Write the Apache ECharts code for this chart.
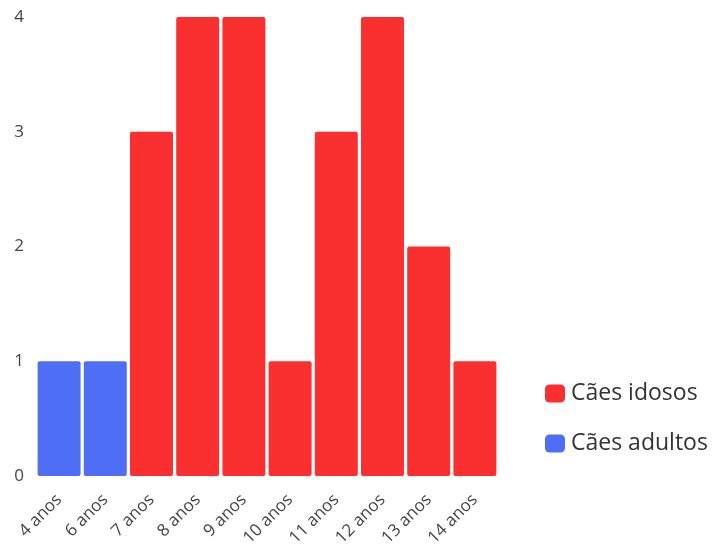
<!DOCTYPE html>
<html>
<head>
<meta charset="utf-8">
<script src="https://cdn.jsdelivr.net/npm/echarts@6/dist/echarts.min.js"></script>
<style>
  html, body { margin: 0; padding: 0; background: #fff; }
  #chart { width: 714px; height: 544px; }
</style>
</head>
<body>
<div id="chart"></div>
<script>
// Idade dos cães e quantidade em cada idade
const categories = ['4 anos', '6 anos', '7 anos', '8 anos', '9 anos', '10 anos', '11 anos', '12 anos', '13 anos', '14 anos'];
const idosos = [null, null, 3, 4, 4, 1, 3, 4, 2, 1];
const adultos = [1, 1, null, null, null, null, null, null, null, null];
const yTicks = [0, 1, 2, 3, 4];

const RED = '#fa2f2f';
const BLUE = '#4e6ef6';
const FONT = '"Open Sans", "Noto Sans", sans-serif';

const chart = echarts.init(document.getElementById('chart'));
chart.setOption({
  animation: false,
  textStyle: { fontFamily: FONT },
  grid: { left: 36, right: 216, top: 17, bottom: 68, containLabel: false, outerBoundsMode: 'none' },
  legend: {
    orient: 'vertical',
    left: 540,
    top: 377,
    itemWidth: 20,
    itemHeight: 18,
    itemGap: 27,
    icon: 'roundRect',
    textStyle: { fontFamily: FONT, fontSize: 23, lineHeight: 23, color: '#333', padding: [0, 0, 0, 1] },
    data: ['Cães idosos', 'Cães adultos']
  },
  xAxis: {
    type: 'category',
    data: categories,
    axisLine: { show: false },
    axisTick: { show: false },
    axisLabel: { rotate: 45, fontSize: 17, color: '#444', margin: 21, interval: 0 }
  },
  yAxis: {
    type: 'value',
    min: yTicks[0],
    max: yTicks[yTicks.length - 1],
    interval: 1,
    splitLine: { show: false },
    axisLine: { show: false },
    axisTick: { show: false },
    axisLabel: { fontSize: 17, color: '#444', margin: 12 }
  },
  series: [
    {
      name: 'Cães idosos',
      type: 'bar',
      stack: 'caes',
      data: idosos,
      barCategoryGap: '7%',
      itemStyle: { color: RED, borderRadius: 2 }
    },
    {
      name: 'Cães adultos',
      type: 'bar',
      stack: 'caes',
      data: adultos,
      barCategoryGap: '7%',
      itemStyle: { color: BLUE, borderRadius: 2 }
    }
  ]
});
</script>
</body>
</html>
